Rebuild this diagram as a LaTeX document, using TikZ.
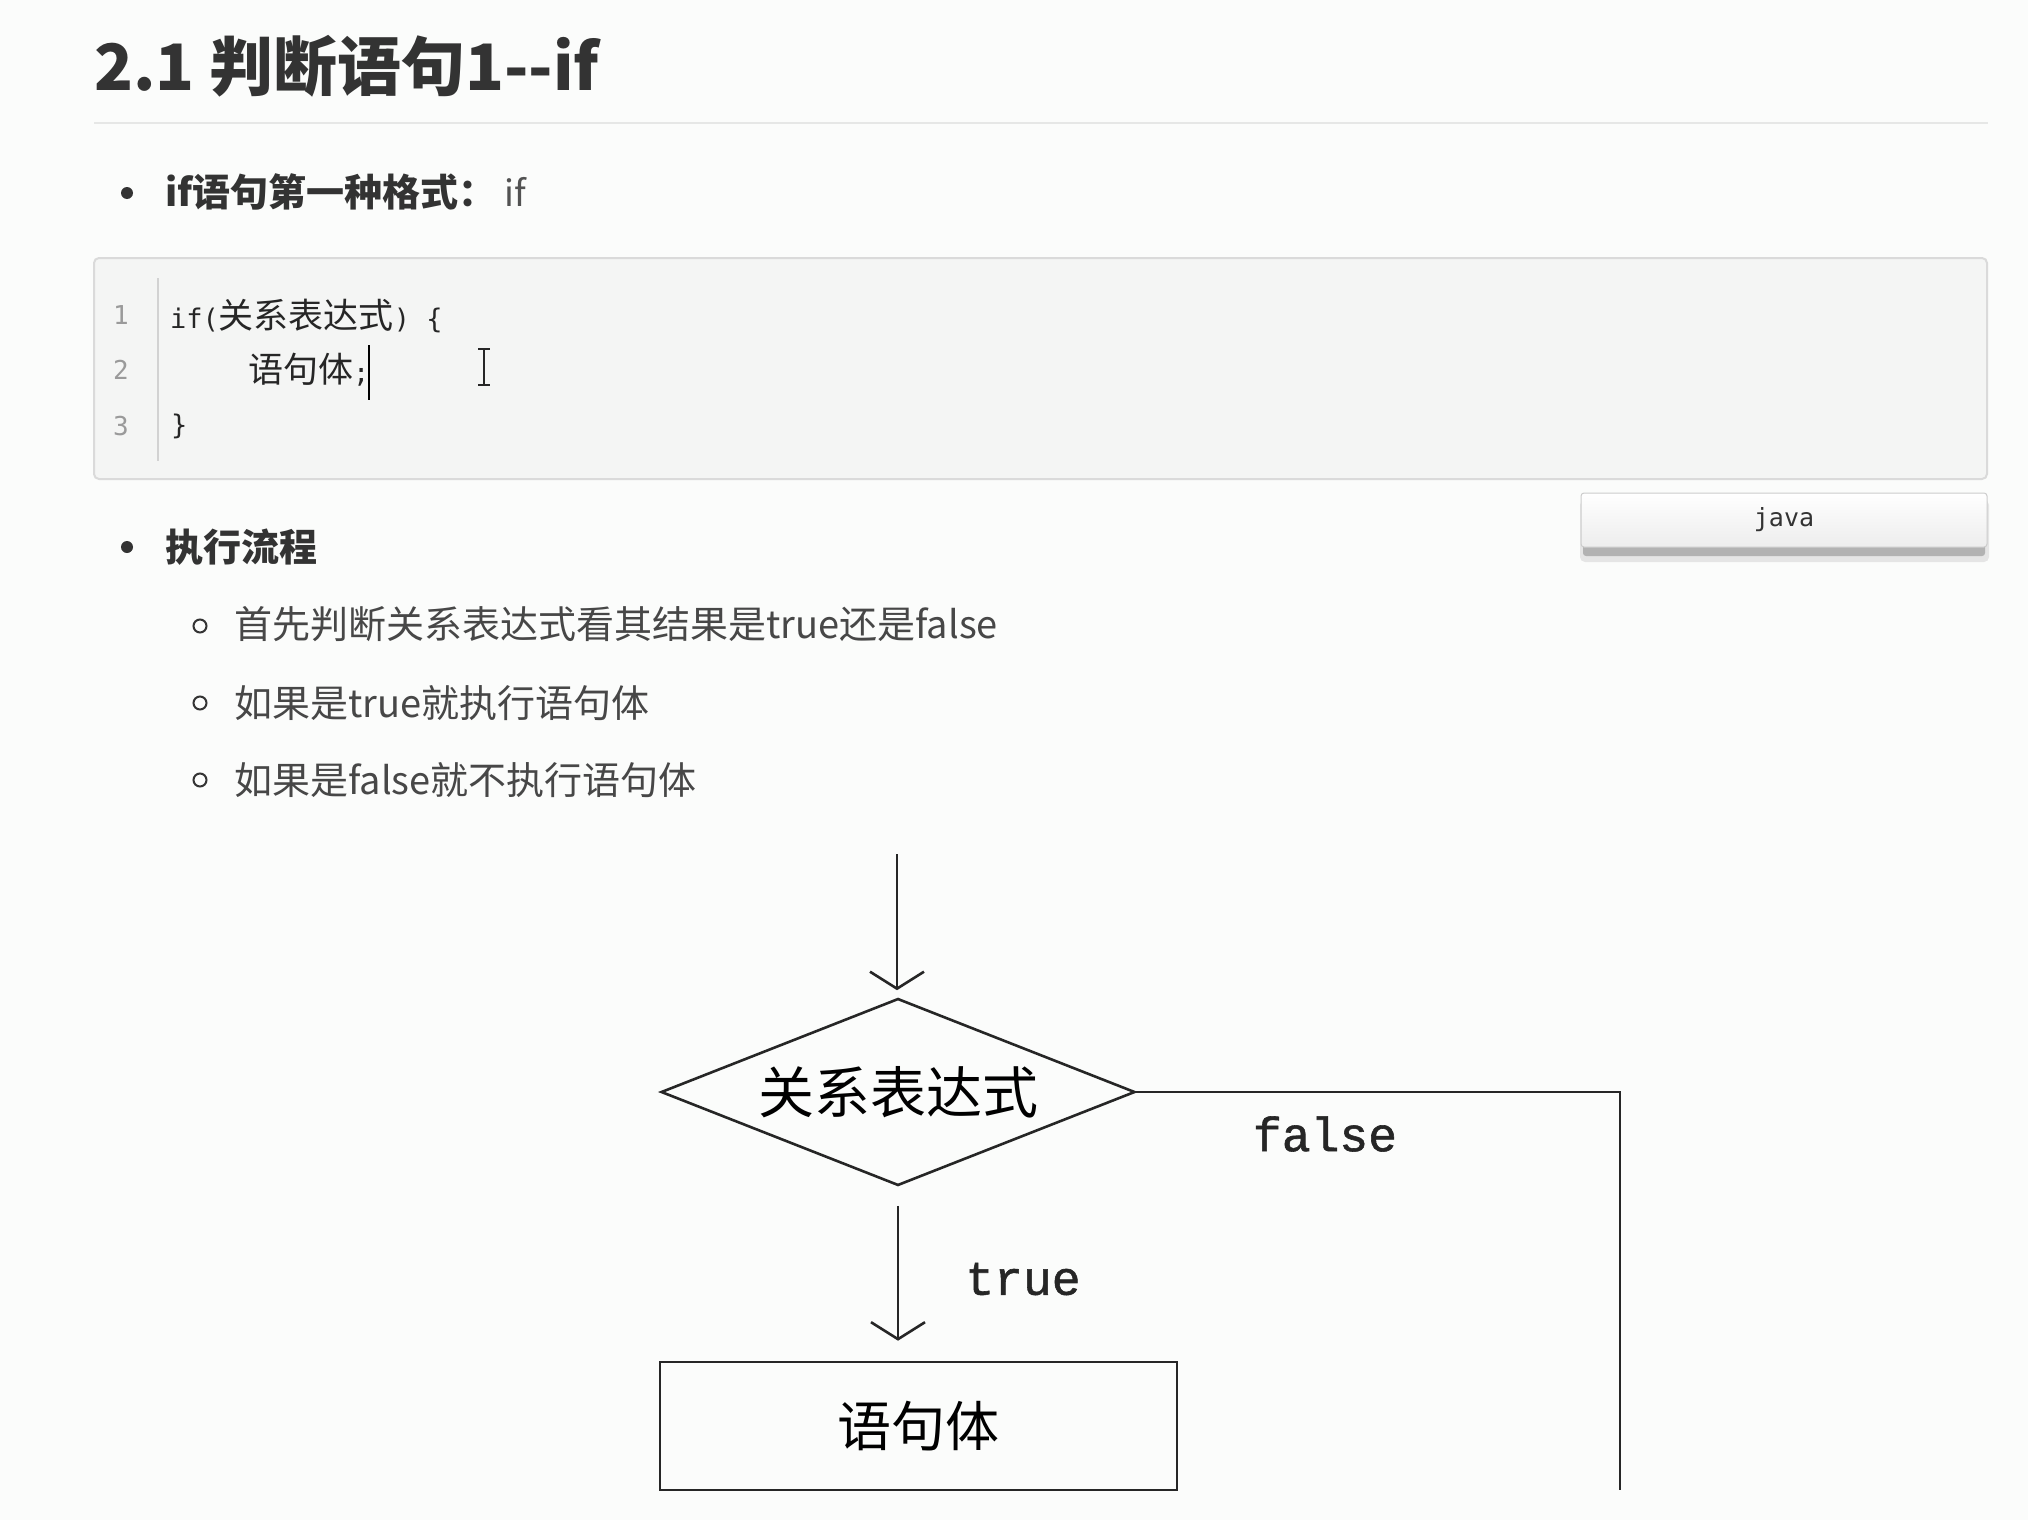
\documentclass[tikz,border=0pt]{standalone}
\usepackage{fontspec}
\setmainfont{Noto Sans CJK SC}
\newfontfamily\monof{DejaVu Sans Mono}
\newfontfamily\courf{Liberation Mono}[FakeBold=1.2]
\usetikzlibrary{shapes.geometric,arrows.meta,calc}
\definecolor{bg}{HTML}{FBFCFB}
\definecolor{txt}{HTML}{333333}
\definecolor{codebg}{HTML}{F4F5F4}
\definecolor{codeborder}{HTML}{DADADA}
\definecolor{lnum}{HTML}{9A9A9A}
\definecolor{rulec}{HTML}{E6E7E6}
\begin{document}
\begin{tikzpicture}[x=1pt,y=-1pt,
  titlest/.style={anchor=base west, inner sep=0pt, text=txt, font=\bfseries\fontsize{64}{70}\selectfont},
  bulst/.style={anchor=west, inner sep=0pt, text=txt, font=\bfseries\fontsize{38}{44}\selectfont},
  bulreg/.style={anchor=west, inner sep=0pt, text=txt!85, font=\fontsize{36}{44}\selectfont},
  subst/.style={anchor=west, inner sep=0pt, text=txt!90, font=\fontsize{38}{44}\selectfont},
  codest/.style={anchor=west, inner sep=0pt, text=black!85, font=\monof\fontsize{27}{32}\selectfont},
  lnumst/.style={anchor=center, inner sep=0pt, text=lnum, font=\monof\fontsize{26}{30}\selectfont},
  flowline/.style={line width=2.6pt, draw=black!85},
  flowarrow/.style={flowline, -{Straight Barb[length=17pt,width=54pt]}},
  decision/.style={diamond, draw=black!85, line width=2.6pt, minimum width=474pt, minimum height=187pt, aspect=2.53, inner sep=0pt, font=\fontsize{56}{60}\selectfont},
  procbox/.style={rectangle, draw=black!85, line width=2.6pt, minimum width=517pt, minimum height=128pt, inner sep=0pt, font=\fontsize{54}{60}\selectfont},
  flowlabel/.style={inner sep=0pt, text=black!85, font=\courf\fontsize{48}{50}\selectfont},
  btn/.style={rectangle, rounded corners=3pt, draw=gray!40, line width=1pt, top color=white, bottom color=gray!14, minimum width=406pt, minimum height=54pt, inner sep=0pt, font=\monof\fontsize{25}{30}\selectfont, text=black!80}
]
\useasboundingbox (0,0) rectangle (2028,1520);
\fill[bg] (0,0) rectangle (2028,1520);

% title and rule
\node[titlest] (title) at (94,90) {2.1 判断语句1-{}-if};
\draw[rulec, line width=2pt] (94,123) -- (1988,123);

% bullet 1
\fill[txt] (127,193) circle (6pt);
\node[bulst] (b1) at (165,192) {if语句第一种格式：};
\node[bulreg] (b1if) at (504,192) {if};

% code box
\draw[fill=codebg, draw=codeborder, line width=2pt, rounded corners=5pt] (94,258) rectangle (1987,479);
\draw[gray!35, line width=1.5pt] (158,278) -- (158,461);
\node[lnumst] (n1) at (121,315) {1};
\node[lnumst] (n2) at (121,370) {2};
\node[lnumst] (n3) at (121,426) {3};
\node[codest] (c1) at (170,316) {if({\rmfamily\fontsize{35}{40}\selectfont 关系表达式}) \{};
\node[codest] (c2) at (248,370) {{\rmfamily\fontsize{35}{40}\selectfont 语句体};};
\node[codest] (c3) at (171,426) {\}};
% text cursor and I-beam
\draw[black, line width=2pt] (369,345) -- (369,400);
\draw[black!85, line width=2pt] (484,349) -- (484,385);
\draw[black!85, line width=2pt] (478,349) -- (490,349);
\draw[black!85, line width=2pt] (478,385) -- (490,385);

% java button
\fill[gray!20, rounded corners=5pt] (1580,500) rectangle (1989,562);
\fill[gray!60, rounded corners=3pt] (1583,500) rectangle (1985,556);
\node[btn] (java) at (1784,520) {java};

% bullet 2
\fill[txt] (127,547) circle (6pt);
\node[bulst] (b2) at (165,547) {执行流程};

% sub bullets
\draw[txt, line width=2pt] (200,626) circle (6.5pt);
\draw[txt, line width=2pt] (200,703) circle (6.5pt);
\draw[txt, line width=2pt] (200,780) circle (6.5pt);
\node[subst] (s1) at (234,624) {首先判断关系表达式看其结果是true还是false};
\node[subst] (s2) at (234,703) {如果是true就执行语句体};
\node[subst] (s3) at (234,780) {如果是false就不执行语句体};

% flowchart
\coordinate (start) at (897,854);
\node[decision] (d) at (898,1092) {关系表达式};
\node[procbox] (box) at (918.5,1426) {语句体};
\coordinate (fend) at (1620,1490);
\draw[flowarrow, shorten >=7pt] (start) -- (start |- d.north);
\draw[flowarrow, shorten <=19pt, shorten >=20pt] (d.south) -- (d.south |- box.north);
\draw[flowline] (d.east) -| (fend);
\node[flowlabel] (lf) at (1325,1134) {false};
\node[flowlabel] (lt) at (1023,1279) {true};
\end{tikzpicture}
\end{document}
